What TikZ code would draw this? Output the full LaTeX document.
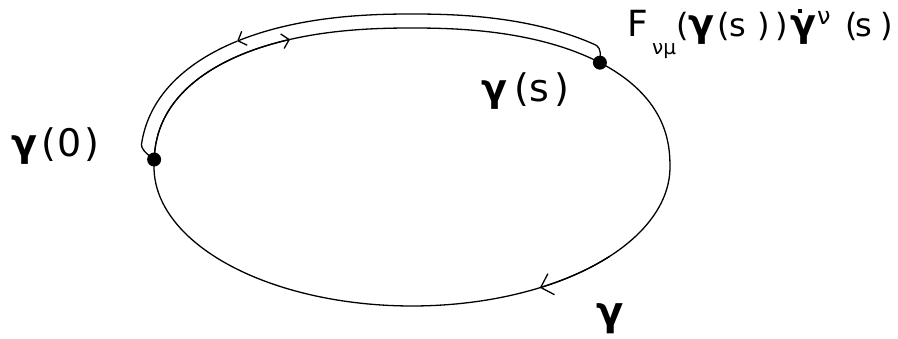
\documentclass[tikz,border=0pt]{standalone}
\usepackage{fontspec}
\setmainfont{DejaVu Sans}
\usetikzlibrary{arrows.meta}
\newcommand\gmm[1]{{\fontsize{#1}{#1}\selectfont\bfseries γ}}
\newcommand\bx[2]{\makebox[#1pt][l]{#2}}
\newcommand\gdotted{\rlap{\hspace{8pt}\raisebox{24pt}{\rule{4pt}{4pt}}}\gmm{38}}
\begin{document}
\begin{tikzpicture}[x=1pt,y=-1pt,
  curve/.style={line width=1.3pt},
  dotnode/.style={circle,fill=black,inner sep=0pt,minimum size=14pt},
  bigbarb/.style={-{Straight Barb[length=11pt,width=22pt,line width=1.3pt]}},
  smallbarb/.style={-{Straight Barb[length=7pt,width=15pt,line width=1.3pt]}},
  lab/.style={inner sep=0pt,anchor=base west},
  declare function={
    f(\t)=sin(min(90,(\t-46)*20))*sin(min(90,(178-\t)*20));
    sx(\t)=cos(\t)*pow(abs(cos(\t))+0.00001,-0.13);
    sy(\t)=sin(\t)*pow(abs(sin(\t))+0.00001,-0.13);}]
\useasboundingbox (0,0) rectangle (898,339);
\def\cx{412}\def\cy{167}\def\rx{258}\def\ry{139}
% main loop: upper half slightly squarish, lower half elliptic
\draw[curve] plot[domain=0:180,samples=150] ({\cx+\rx*sx(\x)},{\cy-\ry*sy(\x)})
  -- plot[domain=180:360,samples=120] ({\cx+\rx*cos(\x)},{\cy-\ry*sin(\x)}) -- cycle;
\draw[curve,bigbarb] plot[domain=-40:-60.3,samples=30] ({\cx+\rx*cos(\x)},{\cy-\ry*sin(\x)});
% forward path on the loop: gamma(0) -> gamma(s)
\draw[curve,smallbarb] plot[domain=178:115,samples=50] ({\cx+\rx*sx(\x)},{\cy-\ry*sy(\x)});
% return path, outside the loop: gamma(s) -> gamma(0)
\draw[curve,smallbarb] plot[domain=46:127,samples=80] ({\cx+(\rx+14*f(\x))*sx(\x)},{\cy-(\ry+14*f(\x))*sy(\x)});
\draw[curve] plot[domain=127:178,samples=60] ({\cx+(\rx+14*f(\x))*sx(\x)},{\cy-(\ry+14*f(\x))*sy(\x)});
% points
\node[dotnode] (p0) at ({\cx+\rx*sx(178)},{\cy-\ry*sy(178)}) {};
\node[dotnode] (ps) at ({\cx+\rx*sx(46)},{\cy-\ry*sy(46)}) {};
% labels
\node[lab,font={\fontsize{32}{32}\selectfont}] (flab) at (627,37)
  {\bx{25}{\fontsize{36}{36}\selectfont F}\bx{24}{\raisebox{-18pt}{\fontsize{20}{20}\selectfont νμ}}\bx{12}{(}\bx{29}{\gmm{38}}\bx{12}{(}\bx{28}{s}\bx{18}{)}\bx{15}{)}\bx{27}{\gdotted}\bx{28}{\raisebox{12pt}{\fontsize{24}{24}\selectfont ν}}\bx{10}{(}\bx{25}{s})};
\node[lab,font={\fontsize{38}{38}\selectfont}] (slab) at (481,102) {\bx{33}{\gmm{38}}\bx{15}{(}\bx{25}{s})};
\node[lab,font={\fontsize{38}{38}\selectfont}] (zlab) at (11,157) {\bx{30}{\gmm{38}}\bx{16}{(}\bx{27}{0})};
\node[lab] (glab) at (596,326) {\gmm{40}};
\end{tikzpicture}
\end{document}
